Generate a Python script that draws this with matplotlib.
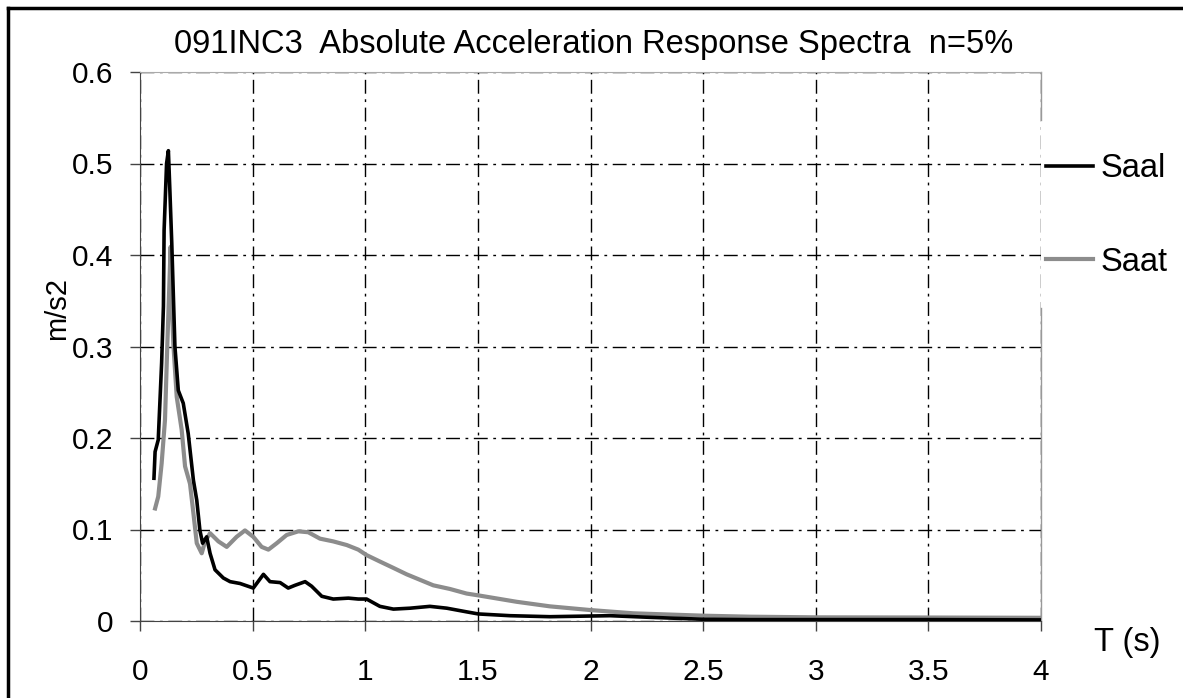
import matplotlib
matplotlib.use('Agg')
import matplotlib.pyplot as plt
from matplotlib.lines import Line2D

plt.rcParams['font.family'] = ['Liberation Sans', 'DejaVu Sans']

# Saal (black) spectrum
T_saal = [0.062, 0.067, 0.081, 0.096, 0.104, 0.107, 0.118, 0.126, 0.133, 0.141,
          0.155, 0.170, 0.192, 0.214, 0.237, 0.252, 0.266, 0.278, 0.296, 0.311,
          0.333, 0.370, 0.400, 0.444, 0.503, 0.548, 0.577, 0.622, 0.658, 0.688,
          0.733, 0.762, 0.807, 0.858, 0.925, 0.969, 1.006, 1.065, 1.125, 1.199,
          1.287, 1.362, 1.450, 1.502, 1.643, 1.820, 2.087, 2.264, 2.501, 2.708,
          3.0, 3.5, 4.0]
Saal = [0.156, 0.185, 0.198, 0.282, 0.344, 0.427, 0.500, 0.514, 0.468, 0.413,
        0.300, 0.252, 0.238, 0.205, 0.154, 0.132, 0.099, 0.085, 0.092, 0.074,
        0.056, 0.047, 0.043, 0.041, 0.036, 0.051, 0.043, 0.042, 0.036, 0.039,
        0.043, 0.038, 0.027, 0.024, 0.025, 0.024, 0.024, 0.016, 0.013, 0.014,
        0.016, 0.014, 0.010, 0.0077, 0.0058, 0.0047, 0.0058, 0.004, 0.0019, 0.0015,
        0.0015, 0.0015, 0.0012]

# Saat (grey) spectrum
T_saat = [0.067, 0.081, 0.096, 0.111, 0.121, 0.130, 0.136, 0.141, 0.148, 0.163,
          0.185, 0.200, 0.222, 0.237, 0.252, 0.274, 0.289, 0.311, 0.348, 0.385,
          0.429, 0.466, 0.503, 0.540, 0.570, 0.607, 0.651, 0.703, 0.747, 0.799,
          0.858, 0.918, 0.969, 1.006, 1.065, 1.125, 1.184, 1.243, 1.302, 1.376,
          1.450, 1.502, 1.672, 1.820, 1.998, 2.190, 2.501, 2.708, 3.0, 3.5, 4.0]
Saat = [0.123, 0.136, 0.172, 0.220, 0.300, 0.365, 0.409, 0.347, 0.303, 0.245,
        0.209, 0.169, 0.150, 0.118, 0.085, 0.074, 0.087, 0.096, 0.087, 0.081,
        0.092, 0.099, 0.092, 0.081, 0.078, 0.085, 0.094, 0.098, 0.097, 0.090,
        0.087, 0.083, 0.078, 0.072, 0.065, 0.058, 0.051, 0.045, 0.039, 0.035,
        0.030, 0.028, 0.021, 0.016, 0.012, 0.0084, 0.0058, 0.0047, 0.0040, 0.0038, 0.0035]

xticks = [0, 0.5, 1, 1.5, 2, 2.5, 3, 3.5, 4]
xticklabels = ['0', '0.5', '1', '1.5', '2', '2.5', '3', '3.5', '4']
yticks = [0, 0.1, 0.2, 0.3, 0.4, 0.5, 0.6]
yticklabels = ['0', '0.1', '0.2', '0.3', '0.4', '0.5', '0.6']

fig = plt.figure(figsize=(11.83, 6.98), dpi=100)
ax = fig.add_axes([140/1183, 77/698, 901/1183, 549/698])

ax.plot(T_saat, Saat, color='#8c8c8c', lw=3.0, label='Saat', zorder=3)
ax.plot(T_saal, Saal, color='black', lw=2.6, label='Saal', zorder=4)

ax.set_xlim(0, 4)
ax.set_ylim(0, 0.6)
ax.set_xticks(xticks)
ax.set_xticklabels(xticklabels)
ax.set_yticks(yticks)
ax.set_yticklabels(yticklabels)
ax.tick_params(axis='both', direction='out', length=7, width=1, color='#444444', labelsize=21.5)
ax.tick_params(axis='x', pad=20)
ax.tick_params(axis='y', pad=12)

ax.grid(True, color='black', lw=1, linestyle=(0, (10, 4, 2, 4)))
ax.set_axisbelow(True)

ax.spines['left'].set_color('#444444')
ax.spines['bottom'].set_color('#444444')
ax.spines['top'].set_color('#aaaaaa')
# right spine is broken where the legend sits
ax.spines['right'].set_visible(False)
ax.plot([1, 1], [0, 0.57], color='#999999', lw=1, transform=ax.transAxes, clip_on=False, zorder=2.5)
ax.plot([1, 1], [0.9126, 1], color='#999999', lw=1, transform=ax.transAxes, clip_on=False, zorder=2.5)

ax.set_title('091INC3  Absolute Acceleration Response Spectra  n=5%', fontsize=23.5, pad=14, x=0.504)
fig.text(57/1183, 1 - 308/698, 'm/s2', fontsize=21, rotation=90, ha='center', va='center')
fig.text(1127/1183, 1 - 642/698, 'T (s)', fontsize=23.5, ha='center', va='center')

h, l = ax.get_legend_handles_labels()
leg = ax.legend(h[::-1], l[::-1], loc='center left', bbox_to_anchor=(1040/1183, 1 - 215.5/698),
                bbox_transform=fig.transFigure, fontsize=23.5, frameon=False,
                handlelength=1.44, handletextpad=0.25, labelspacing=1.9, borderpad=0.18,
                borderaxespad=0)

# outer frame (only left and top edges fall inside the picture)
fig.add_artist(Line2D([8/1183, 8/1183], [0, 1 - 8/698], color='black', lw=2.5))
fig.add_artist(Line2D([8/1183, 1], [1 - 8/698, 1 - 8/698], color='black', lw=2.5))

fig.savefig('out.png', dpi=100)
